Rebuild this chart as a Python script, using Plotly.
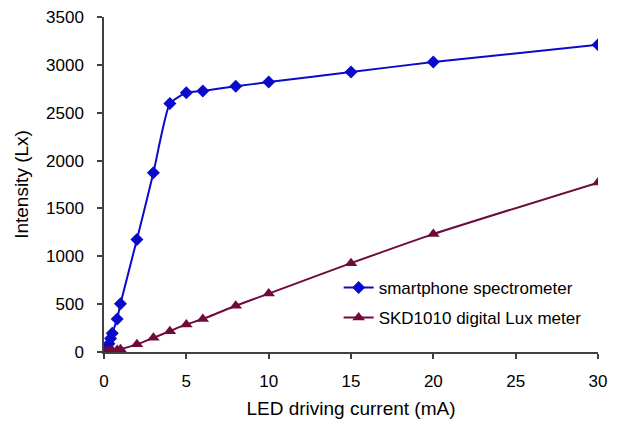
import plotly.graph_objects as go

current_blue = [0, 0.1, 0.2, 0.3, 0.4, 0.5, 0.8, 1, 2, 3, 4, 5, 6, 8, 10, 15, 20, 30]
spectrometer = [0, 20, 45, 85, 140, 195, 345, 505, 1175, 1872, 2595, 2708, 2728, 2776, 2820, 2925, 3030, 3210]

current_red = [0, 0.1, 0.2, 0.3, 0.4, 0.5, 0.8, 1, 2, 3, 4, 5, 6, 8, 10, 15, 20, 30]
lux_meter = [0, 2, 5, 8, 12, 15, 22, 30, 80, 148, 218, 288, 345, 483, 610, 928, 1232, 1770]

x_ticks = [0, 5, 10, 15, 20, 25, 30]
y_ticks = [0, 500, 1000, 1500, 2000, 2500, 3000, 3500]

font_family = "Liberation Sans, Arial, sans-serif"

fig = go.Figure()
fig.add_trace(go.Scatter(
    x=current_blue, y=spectrometer, mode="lines+markers",
    name="smartphone spectrometer", legendgroup="a",
    line=dict(color="#0A0ACC", width=2, shape="spline", smoothing=0.5),
    marker=dict(symbol="diamond", size=10, color="#0A0ACC"),
))
fig.add_trace(go.Scatter(
    x=current_red, y=lux_meter, mode="lines+markers",
    name="SKD1010 digital Lux meter", legendgroup="b",
    line=dict(color="#6E0A3C", width=2, shape="spline", smoothing=0.5),
    marker=dict(symbol="triangle-up", size=11, color="#6E0A3C"),
))

axis_common = dict(
    showline=True, linecolor="#404040", linewidth=1.5,
    ticks="outside", ticklen=5, tickcolor="#404040", tickwidth=1.5,
    showgrid=False, zeroline=False, automargin=False,
    ticklabeloverflow="allow",
    tickfont=dict(family=font_family, size=17, color="black"),
)

# page body has an 8px default margin, so the figure is offset by 8px
fig.update_layout(
    width=610, height=415,
    margin=dict(l=96, r=20, t=9, b=71),
    paper_bgcolor="white", plot_bgcolor="white",
    font=dict(family=font_family, color="black"),
    xaxis=dict(range=[0, 30], tickvals=x_ticks,
               title=dict(text="LED driving current (mA)", font=dict(size=19), standoff=12),
               **axis_common),
    yaxis=dict(range=[0, 3500], tickvals=y_ticks,
               title=dict(text="Intensity (Lx)", font=dict(size=19), standoff=12),
               **axis_common),
    legend=dict(x=0.475, y=0.245, xanchor="left", yanchor="top",
                bgcolor="rgba(0,0,0,0)", font=dict(size=17),
                traceorder="grouped", tracegroupgap=5),
)
fig.update_xaxes(ticklabelstandoff=8)
fig.update_yaxes(ticklabelstandoff=10)

fig.write_html("out.html")
